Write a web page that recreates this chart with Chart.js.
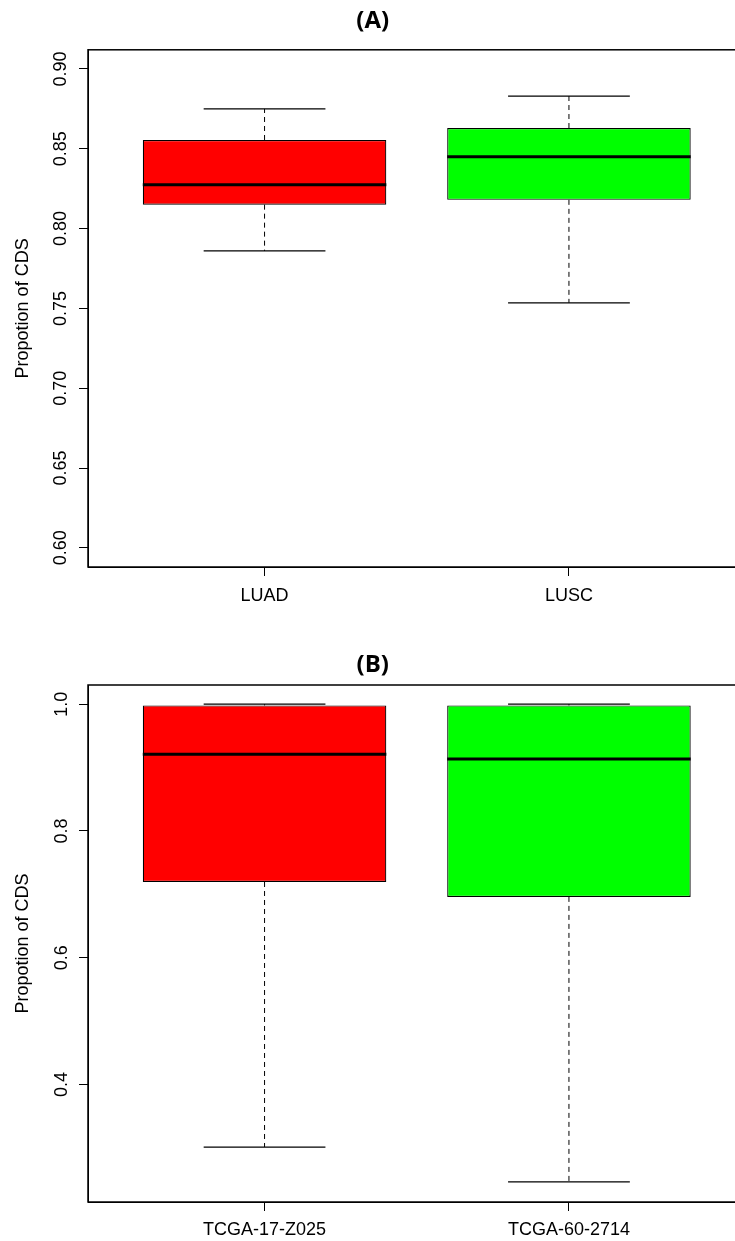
<!DOCTYPE html>
<html>
<head>
<meta charset="utf-8">
<script src="https://cdn.jsdelivr.net/npm/chart.js@4"></script>
<style>
  body { margin: 0; background: #fff; width: 735px; height: 1241px; overflow: hidden; }
  canvas { display: block; }
</style>
</head>
<body>
<canvas id="chartA" width="750" height="625"></canvas>
<canvas id="chartB" width="750" height="616"></canvas>
<script>
// Panel (A): cancer types
const groupsA = ["LUAD", "LUSC"];
const minA = [0.786, 0.7535];
const q1A = [0.815, 0.818];
const medA = [0.8275, 0.845];
const q3A = [0.8555, 0.863];
const maxA = [0.875, 0.883];
const ticksA = [0.60, 0.65, 0.70, 0.75, 0.80, 0.85, 0.90];

// Panel (B): samples
const groupsB = ["TCGA-17-Z025", "TCGA-60-2714"];
const minB = [0.3015, 0.2465];
const q1B = [0.7195, 0.696];
const medB = [0.921, 0.9135];
const q3B = [0.998, 0.998];
const maxB = [1.0, 1.0];
const ticksB = [0.4, 0.6, 0.8, 1.0];

const boxColors = ["#FF0000", "#00FF00"];
const font = { family: "'Liberation Sans', Arial, sans-serif", size: 18 };

// frame around plot area, like R's box()
const framePlugin = {
    id: "frame",
    afterDraw(chart) {
        const a = chart.chartArea;
        const ctx = chart.ctx;
        ctx.save();
        ctx.strokeStyle = "#000";
        ctx.lineWidth = 1.5;
        ctx.strokeRect(a.left, a.top, a.right - a.left, a.bottom - a.top);
        ctx.restore();
    }
};

function lineSet(points, width, dash) {
    return {
        type: "line",
        data: points,
        borderColor: "#000",
        borderWidth: width,
        borderDash: dash || [],
        pointRadius: 0,
        fill: false,
        tension: 0,
        order: 1
    };
}

function makeBoxChart(id, title, titlePad, groups, mins, q1s, meds, q3s, maxs, yTicks, yMin, yMax, digits, labelPad, xPad, axisH) {
    const datasets = [{
        type: "bar",
        data: groups.map((g, i) => ({ x: i + 1, y: [q1s[i], q3s[i]] })),
        backgroundColor: boxColors,
        borderColor: "#000",
        borderWidth: 1.2,
        borderSkipped: false,
        barPercentage: 1,
        categoryPercentage: 0.8,
        order: 2
    }];
    groups.forEach((g, i) => {
        const x = i + 1;
        // whiskers
        datasets.push(lineSet([{ x: x, y: q3s[i] }, { x: x, y: maxs[i] }], 1, [5, 4]));
        datasets.push(lineSet([{ x: x, y: q1s[i] }, { x: x, y: mins[i] }], 1, [5, 4]));
        // staples
        datasets.push(lineSet([{ x: x - 0.2, y: maxs[i] }, { x: x + 0.2, y: maxs[i] }], 1.2));
        datasets.push(lineSet([{ x: x - 0.2, y: mins[i] }, { x: x + 0.2, y: mins[i] }], 1.2));
        // median
        datasets.push(lineSet([{ x: x - 0.4, y: meds[i] }, { x: x + 0.4, y: meds[i] }], 3));
    });

    return new Chart(document.getElementById(id), {
        data: { datasets: datasets },
        options: {
            responsive: false,
            animation: false,
            layout: { padding: { left: 0, right: 4.5, top: 0, bottom: 0 } },
            plugins: {
                legend: { display: false },
                tooltip: { enabled: false },
                title: {
                    display: true,
                    text: title,
                    color: "#000",
                    font: { family: "'Open Sans', sans-serif", size: 24, weight: "bold" },
                    padding: titlePad
                }
            },
            scales: {
                x: {
                    type: "linear",
                    min: 0.42,
                    max: 2.58,
                    offset: false,
                    afterBuildTicks: s => { s.ticks = groups.map((g, i) => ({ value: i + 1 })); },
                    afterFit: s => { s.height = axisH; },
                    ticks: {
                        color: "#000",
                        font: font,
                        padding: xPad,
                        maxRotation: 0,
                        callback: (v, i) => groups[i]
                    },
                    grid: { offset: false, drawOnChartArea: false, color: "#000", tickLength: 9 },
                    border: { color: "#000" }
                },
                y: {
                    type: "linear",
                    min: yMin,
                    max: yMax,
                    afterBuildTicks: s => { s.ticks = yTicks.map(v => ({ value: v })); },
                    afterFit: s => { s.width = 88; },
                    ticks: {
                        color: "#000",
                        font: font,
                        minRotation: 90,
                        maxRotation: 90,
                        crossAlign: "center",
                        padding: labelPad,
                        callback: v => v.toFixed(digits)
                    },
                    grid: { drawOnChartArea: false, color: "#000", tickLength: 9 },
                    border: { color: "#000" },
                    title: {
                        display: true,
                        text: "Propotion of CDS",
                        color: "#000",
                        font: font,
                        padding: { top: 12, bottom: 0 }
                    }
                }
            }
        },
        plugins: [framePlugin]
    });
}

makeBoxChart("chartA", "(A)", { top: 7, bottom: 14 }, groupsA, minA, q1A, medA, q3A, maxA,
    ticksA, 0.588, 0.912, 2, 0, 9, 58);
makeBoxChart("chartB", "(B)", { top: 25.6, bottom: 5.6 }, groupsB, minB, q1B, medB, q3B, maxB,
    ticksB, 0.2148, 1.0302, 1, 4, 8, 39);
</script>
</body>
</html>
